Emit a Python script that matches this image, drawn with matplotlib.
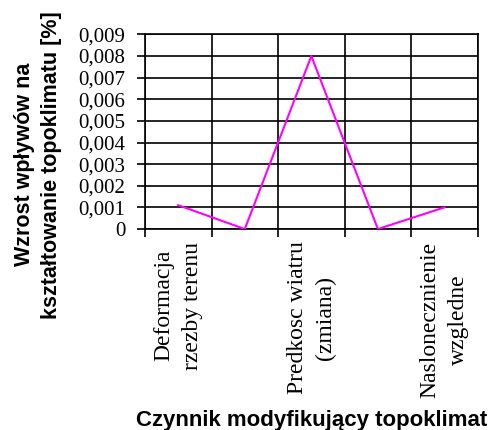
import numpy as np
import matplotlib
matplotlib.use("Agg")
import matplotlib.pyplot as plt
from matplotlib.ticker import FixedLocator, FuncFormatter

# dane
categories = [
    "Deformacja\nrzezby terenu",
    "",
    "Predkosc wiatru\n(zmiana)",
    "",
    "Naslonecznienie\nwzgledne",
]
values = [0.0011, 0.0, 0.008, 0.0, 0.001]
y_ticks = [0.000, 0.001, 0.002, 0.003, 0.004, 0.005, 0.006, 0.007, 0.008, 0.009]

x_label = "Czynnik modyfikujący topoklimat"
y_label = "Wzrost wpływów na\nkształtowanie topoklimatu [%]"


def comma_fmt(v, pos):
    if abs(v) < 1e-12:
        return "0"
    return f"{v:.3f}".replace(".", ",")


fig = plt.figure(figsize=(4.94, 4.30), dpi=100)
ax = fig.add_axes([0.2935, 0.4674, 0.6735, 0.4526])

x = np.arange(len(values))
ax.plot(x, values, color="#ff00ff", linewidth=1.5, zorder=3)

ax.set_xlim(-0.5, len(values) - 0.5)
ax.set_ylim(y_ticks[0], y_ticks[-1])

# siatka na granicach kategorii, podpisy w srodku
ax.xaxis.set_major_locator(FixedLocator(np.arange(len(values) + 1) - 0.5))
ax.xaxis.set_major_formatter(FuncFormatter(lambda v, p: ""))
ax.xaxis.set_minor_locator(FixedLocator(x))
ax.set_xticklabels(categories, minor=True, rotation=90, ha="center", va="top",
                   multialignment="center", family="Liberation Serif", fontsize=17,
                   linespacing=1.45)
ax.tick_params(axis="x", which="minor", length=0, pad=9)
ax.tick_params(axis="x", which="major", length=6, width=1.2, direction="out")

ax.set_yticks(y_ticks)
ax.yaxis.set_major_formatter(FuncFormatter(comma_fmt))
ax.tick_params(axis="y", length=6, width=1.2, direction="out", pad=8)
for lbl in ax.get_yticklabels():
    lbl.set_family("Liberation Serif")
    lbl.set_fontsize(15)

ax.grid(True, which="major", color="black", linewidth=1.2)
for s in ax.spines.values():
    s.set_color("black")
    s.set_linewidth(1.2)

ax.set_xlabel(x_label, family="Liberation Sans", fontweight="bold", fontsize=16, va="top")
ax.xaxis.set_label_coords(0.5, -0.93)
ax.set_ylabel(y_label, family="Liberation Sans", fontweight="bold", fontsize=15.5,
              va="center", ha="center", multialignment="center", linespacing=1.35)
ax.yaxis.set_label_coords(-0.322, 0.33)

fig.savefig("out.png", dpi=100)
